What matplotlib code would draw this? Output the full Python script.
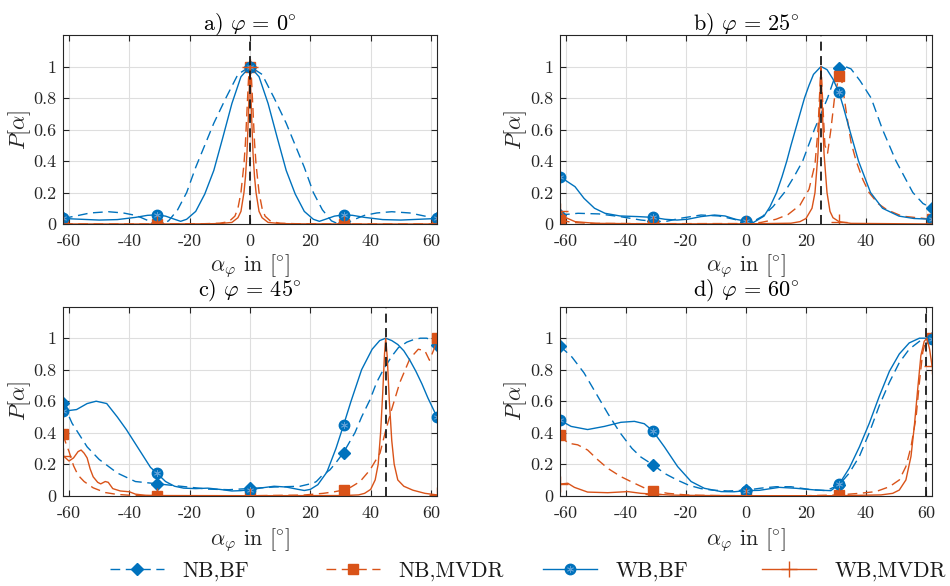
import matplotlib
matplotlib.use("Agg")
import matplotlib.pyplot as plt
import numpy as np

plt.rcParams.update({
    "font.family": ["cmr10", "DejaVu Serif"],
    "mathtext.fontset": "cm",
    "axes.unicode_minus": False,
    "axes.formatter.use_mathtext": True,
})

# ---------------------------------------------------------------- data
XTICKS = [-60, -40, -20, 0, 20, 40, 60]
XTICK_LABELS = ["-60", "-40", "-20", "0", "20", "40", "60"]
YTICKS = [0, 0.2, 0.4, 0.6, 0.8, 1.0]
YTICK_LABELS = ["0", "0.2", "0.4", "0.6", "0.8", "1"]
MARKER_X = [-62, -31, 0, 31, 62]
STEER_ANGLES = [0, 25, 45, 60]
PANEL_TITLES = [r"a) $\varphi\,=\,0\!^\circ$", r"b) $\varphi\,=\,25\!^\circ$",
                r"c) $\varphi\,=\,45\!^\circ$", r"d) $\varphi\,=\,60\!^\circ$"]
SERIES_NAMES = ["NB,BF", "NB,MVDR", "WB,BF", "WB,MVDR"]

# panel a) phi = 0
A_NBBF_X = [-62, -58, -53, -47, -42, -38, -36, -33, -31, -29, -27, -24, -21, -18, -15, -12, -8, -4,
            0, 4, 8, 12, 15, 18, 21, 24, 27, 29, 31, 33, 36, 38, 42, 47, 53, 58, 62]
A_NBBF_Y = [0.035, 0.05, 0.07, 0.078, 0.07, 0.055, 0.04, 0.015, 0.004, 0.003, 0.02, 0.09, 0.20, 0.36,
            0.50, 0.64, 0.80, 0.95, 1.0, 0.95, 0.80, 0.64, 0.50, 0.36, 0.20, 0.09, 0.02, 0.003, 0.004,
            0.015, 0.04, 0.055, 0.07, 0.078, 0.07, 0.05, 0.035]
A_NBMVDR_X = [-62, -31, -20, -15, -10, -7, -5, -4, -3, -2, -1.5, -1, -0.5, 0, 0.5, 1, 1.5, 2, 3, 4, 5,
              7, 10, 15, 20, 31, 62]
A_NBMVDR_Y = [0, 0, 0.001, 0.002, 0.005, 0.015, 0.05, 0.1, 0.2, 0.38, 0.52, 0.72, 0.92, 1.0, 0.92,
              0.72, 0.52, 0.38, 0.2, 0.1, 0.05, 0.015, 0.005, 0.002, 0.001, 0, 0]
A_WBBF_X = [-62, -56, -50, -44, -38, -34, -31, -28, -25, -23, -21, -18, -15, -12, -9, -6, -3, 0,
            3, 6, 9, 12, 15, 18, 21, 23, 25, 28, 31, 34, 38, 44, 50, 56, 62]
A_WBBF_Y = [0.035, 0.03, 0.025, 0.028, 0.042, 0.055, 0.058, 0.05, 0.03, 0.017, 0.03, 0.08, 0.19, 0.34,
            0.55, 0.765, 0.935, 1.0, 0.935, 0.765, 0.55, 0.34, 0.19, 0.08, 0.03, 0.017, 0.03, 0.05,
            0.058, 0.055, 0.042, 0.028, 0.025, 0.03, 0.035]
A_WBMVDR_X = [-62, -31, -15, -10, -6, -4, -3, -2, -1.5, -1, -0.5, 0, 0.5, 1, 1.5, 2, 3, 4, 6, 10,
              15, 31, 62]
A_WBMVDR_Y = [0, 0, 0.001, 0.003, 0.01, 0.04, 0.08, 0.2, 0.3, 0.45, 0.7, 1.0, 0.7, 0.45, 0.3, 0.2,
              0.08, 0.04, 0.01, 0.003, 0.001, 0, 0]

# panel b) phi = 25
B_NBBF_X = [-62, -56, -49, -42, -35, -31, -27, -22, -15, -9, -4, 0, 2, 5.6, 9, 12.8, 16, 18.9, 22.8,
            25, 27.2, 29, 31, 33, 35, 38, 41.7, 45.5, 50, 55.6, 59, 62]
B_NBBF_Y = [0.057, 0.068, 0.064, 0.047, 0.025, 0.018, 0.015, 0.036, 0.057, 0.051, 0.03, 0.012, 0.012,
            0.05, 0.11, 0.2, 0.3, 0.4, 0.6, 0.7, 0.8, 0.9, 0.99, 1.0, 0.985, 0.91, 0.8, 0.6, 0.4, 0.2,
            0.13, 0.1]
B_NBMVDR_X = [-62, -58, -52, -31, 0, 5, 10, 14, 18, 21, 23, 24, 24.6, 25, 25.5, 26.3, 27.2, 28.3,
              29.5, 31, 32, 33.5, 35, 36.7, 39, 41, 44, 47, 52, 57, 62]
B_NBMVDR_Y = [0.025, 0.01, 0.004, 0.002, 0.003, 0.01, 0.03, 0.06, 0.12, 0.22, 0.38, 0.6, 0.85, 1.0,
              0.8, 0.5, 0.45, 0.6, 0.8, 0.94, 0.9, 0.7, 0.52, 0.4, 0.28, 0.2, 0.13, 0.09, 0.05, 0.04,
              0.03]
B_WBBF_X = [-62, -57, -54, -50.5, -47, -42, -36, -31, -27, -23, -19.5, -15, -10.5, -7, -3.5, 0, 2.5,
            6, 8, 10.2, 12, 13.6, 15, 16.5, 18, 19.5, 21, 22.5, 25, 27, 29, 31, 32.5, 34.5, 37.5,
            41.5, 45.5, 51, 56, 62]
B_WBBF_Y = [0.30, 0.237, 0.163, 0.10, 0.068, 0.051, 0.047, 0.042, 0.03, 0.025, 0.03, 0.047, 0.057,
            0.051, 0.03, 0.018, 0.01, 0.05, 0.11, 0.2, 0.3, 0.4, 0.5, 0.6, 0.7, 0.8, 0.88, 0.95, 1.0,
            0.98, 0.92, 0.835, 0.74, 0.6, 0.4, 0.2, 0.1, 0.05, 0.035, 0.03]
B_WBMVDR_X = [-62, -60, -57, -50, -31, 0, 15, 18, 20, 22, 23, 24, 24.5, 25, 25.5, 26, 27, 28, 29, 31,
              35, 62]
B_WBMVDR_Y = [0.085, 0.04, 0.015, 0.004, 0.001, 0.001, 0.005, 0.015, 0.035, 0.1, 0.2, 0.45, 0.7, 1.0,
              0.7, 0.45, 0.2, 0.08, 0.04, 0.015, 0.004, 0.0]

# panel c) phi = 45
C_NBBF_X = [-62, -59, -54, -50, -44, -38, -31, -23, -14, -7, 0, 8, 16.6, 21, 22, 24, 26.5, 28.5, 31,
            34.8, 37, 39.8, 42, 44.2, 47, 49.2, 52, 54.1, 56.5, 58.6, 60.5, 62]
C_NBBF_Y = [0.589, 0.46, 0.31, 0.23, 0.144, 0.09, 0.076, 0.06, 0.042, 0.038, 0.046, 0.055, 0.06, 0.08,
            0.09, 0.13, 0.164, 0.21, 0.274, 0.40, 0.5, 0.61, 0.72, 0.80, 0.885, 0.94, 0.975, 0.99, 1.0,
            1.0, 0.985, 0.96]
C_NBMVDR_X = [-62, -61, -60, -58.5, -57, -55, -52, -48, -44, -40, -35, -31, 0, 17.7, 24.3, 28, 31,
              33.5, 36.5, 39.8, 43.1, 44.8, 47, 49.7, 53, 55.8, 58, 59.5, 61, 62]
C_NBMVDR_Y = [0.39, 0.33, 0.28, 0.19, 0.13, 0.09, 0.05, 0.02, 0.008, 0.003, 0.001, 0.0, 0.0, 0.004,
              0.015, 0.025, 0.036, 0.055, 0.09, 0.164, 0.27, 0.40, 0.55, 0.72, 0.87, 0.93, 0.92, 0.86,
              0.93, 1.0]
C_WBBF_X = [-62, -57.5, -54, -51, -47.5, -44, -41, -38, -35, -33, -31, -28, -25, -22, -18, -14, -10,
            -6, -3, 0, 4, 8, 12, 16, 18, 20, 22.5, 25.5, 28.5, 31, 33.5, 37, 40.5, 43, 45, 47, 49,
            51, 53, 55, 57, 59, 60.5, 62]
C_WBBF_Y = [0.536, 0.547, 0.585, 0.60, 0.585, 0.50, 0.42, 0.33, 0.24, 0.18, 0.145, 0.09, 0.06, 0.048,
            0.045, 0.048, 0.04, 0.03, 0.032, 0.038, 0.05, 0.06, 0.055, 0.04, 0.033, 0.04, 0.07, 0.15,
            0.3, 0.447, 0.6, 0.8, 0.93, 0.985, 1.0, 0.985, 0.96, 0.92, 0.86, 0.79, 0.71, 0.62, 0.56,
            0.5]
C_WBMVDR_X = [-62, -60, -58.5, -57, -56, -55, -54, -53, -52, -50.5, -49.5, -48, -47, -45.5, -43, -40,
              -38, -35, -31, 0, 31, 36, 38, 40, 41.5, 42.5, 43.3, 44, 44.6, 45, 45.5, 46.2, 47, 47.8,
              49, 51, 54, 58, 62]
C_WBMVDR_Y = [0.255, 0.22, 0.24, 0.28, 0.29, 0.27, 0.24, 0.17, 0.12, 0.085, 0.075, 0.09, 0.085, 0.045,
              0.03, 0.025, 0.01, 0.003, 0.001, 0.0, 0.001, 0.005, 0.015, 0.04, 0.1, 0.2, 0.4, 0.65,
              0.9, 1.0, 0.88, 0.6, 0.35, 0.2, 0.1, 0.06, 0.035, 0.015, 0.005]

# panel d) phi = 60
D_NBBF_X = [-62, -58, -54, -50, -46, -42, -38, -35, -31, -27, -23, -19, -15, -11, -6, 0, 5, 10, 15,
            21, 26.7, 31, 34.4, 37.8, 41.1, 44.4, 47.8, 51.1, 54.4, 57.8, 60.6, 62]
D_NBBF_Y = [0.95, 0.88, 0.78, 0.65, 0.52, 0.40, 0.30, 0.245, 0.196, 0.14, 0.10, 0.066, 0.045, 0.035,
            0.03, 0.035, 0.048, 0.057, 0.057, 0.04, 0.032, 0.068, 0.143, 0.25, 0.40, 0.57, 0.72,
            0.845, 0.93, 0.98, 1.0, 1.0]
D_NBMVDR_X = [-62, -59.4, -56.1, -52.8, -49.4, -46.1, -41.7, -37.2, -32.8, -31, -26.1, -19.4, -10, 0,
              20, 31, 37.8, 43.3, 47.8, 51.1, 53.3, 55, 56.7, 57.8, 58.9, 60, 61.1, 62]
D_NBMVDR_Y = [0.387, 0.334, 0.323, 0.29, 0.228, 0.174, 0.121, 0.079, 0.04, 0.032, 0.015, 0.004,
              0.001, 0.0, 0.0, 0.005, 0.015, 0.026, 0.057, 0.1, 0.185, 0.31, 0.50, 0.72, 0.91, 0.99,
              1.0, 1.0]
D_WBBF_X = [-62, -58.3, -52.8, -47.2, -41.7, -37.2, -33.9, -31, -27.2, -22.8, -18.3, -13.9, -8.3, -4,
            0, 4.4, 11.1, 16.7, 23.3, 28.3, 31, 34.4, 37.8, 41.1, 44.4, 47.8, 51.1, 54.4, 57.8, 60.6,
            62]
D_WBBF_Y = [0.479, 0.44, 0.42, 0.44, 0.466, 0.472, 0.457, 0.41, 0.31, 0.185, 0.09, 0.047, 0.026,
            0.025, 0.032, 0.034, 0.053, 0.047, 0.036, 0.032, 0.072, 0.174, 0.31, 0.46, 0.63, 0.79, 0.9,
            0.97, 1.0, 1.0, 0.994]
D_WBMVDR_X = [-62, -59.4, -57.2, -52.8, -46.1, -39.4, -35, -31, -25, -15, 0, 31, 45, 48.9, 51.1, 53.3,
              55, 56.1, 57.2, 58.3, 59.4, 60.3, 61.2, 62]
D_WBMVDR_Y = [0.074, 0.079, 0.053, 0.023, 0.019, 0.026, 0.015, 0.01, 0.004, 0.001, 0.0, 0.0, 0.005,
              0.015, 0.036, 0.1, 0.25, 0.44, 0.67, 0.89, 0.98, 1.0, 0.93, 0.825]

PANELS = [
    [(A_NBBF_X, A_NBBF_Y), (A_NBMVDR_X, A_NBMVDR_Y), (A_WBBF_X, A_WBBF_Y), (A_WBMVDR_X, A_WBMVDR_Y)],
    [(B_NBBF_X, B_NBBF_Y), (B_NBMVDR_X, B_NBMVDR_Y), (B_WBBF_X, B_WBBF_Y), (B_WBMVDR_X, B_WBMVDR_Y)],
    [(C_NBBF_X, C_NBBF_Y), (C_NBMVDR_X, C_NBMVDR_Y), (C_WBBF_X, C_WBBF_Y), (C_WBMVDR_X, C_WBMVDR_Y)],
    [(D_NBBF_X, D_NBBF_Y), (D_NBMVDR_X, D_NBMVDR_Y), (D_WBBF_X, D_WBBF_Y), (D_WBMVDR_X, D_WBMVDR_Y)],
]

# ---------------------------------------------------------------- style
BLUE = "#0072BD"
ORANGE = "#D95319"
TXT = "#262626"
DASH = (0, (7, 4))
STYLES = [
    dict(color=BLUE, ls=DASH, lw=1.0, marker="D", ms=6.5, mfc=BLUE, mec=BLUE),
    dict(color=ORANGE, ls=DASH, lw=1.0, marker="s", ms=6.5, mfc=ORANGE, mec=ORANGE),
    dict(color=BLUE, ls="-", lw=1.0, marker="o", ms=7.5, mfc=BLUE, mec=BLUE),
    dict(color=ORANGE, ls="-", lw=1.0, marker="+", ms=11, mew=1.0, mec=ORANGE),
]
STAR = dict(ls="none", marker=(6, 2, 0), ms=5, mec="#5d9fd6", mew=0.6)

AX_RECTS = [
    [63 / 950, 1 - 224 / 586, 374 / 950, 189 / 586],
    [560 / 950, 1 - 224 / 586, 372 / 950, 189 / 586],
    [63 / 950, 1 - 495.7 / 586, 374 / 950, 189 / 586],
    [560 / 950, 1 - 495.7 / 586, 372 / 950, 189 / 586],
]
TITLE_PADS = [4.0, 4.0, 8.0, 8.0]
XLABEL_Y = [-0.222, -0.222, -0.233, -0.233]
YLABEL_X = [-0.115, -0.12, -0.115, -0.12]

fig = plt.figure(figsize=(9.5, 5.86), dpi=100)
legend_handles = None

for k in range(4):
    ax = fig.add_axes(AX_RECTS[k])
    handles = []
    for (xs, ys), st in zip(PANELS[k], STYLES):
        x = np.asarray(xs, float)
        y = np.asarray(ys, float)
        idx = np.flatnonzero(np.isin(x, MARKER_X))
        ln, = ax.plot(x, y, markevery=list(idx), **st)
        if st["marker"] == "o":
            star, = ax.plot(x[idx], y[idx], **STAR)
            handles.append((ln, star))
        else:
            handles.append(ln)
    if legend_handles is None:
        legend_handles = handles

    ax.axvline(STEER_ANGLES[k], color="#1a1a1a", lw=1.3, ls=(0, (5, 3)), zorder=5)

    ax.set_xlim(-62, 62)
    ax.set_ylim(0, 1.2)
    ax.set_xticks(XTICKS)
    ax.set_xticklabels(XTICK_LABELS)
    ax.set_yticks(YTICKS)
    ax.set_yticklabels(YTICK_LABELS)
    ax.grid(True, color="#dedede", lw=0.8)
    ax.set_axisbelow(True)
    ax.tick_params(direction="in", length=4, width=0.8, top=True, right=True,
                   colors=TXT, labelsize=13)
    ax.tick_params(axis="x", pad=7)
    ax.tick_params(axis="y", pad=5)
    for s in ax.spines.values():
        s.set_color(TXT)
        s.set_linewidth(0.8)

    ax.set_title(PANEL_TITLES[k], fontsize=16, pad=TITLE_PADS[k], color="k")
    ax.set_xlabel(r"$\alpha_\varphi$ in $[\!^\circ\!]$", fontsize=16, color=TXT)
    ax.xaxis.label.set_va("center")
    ax.xaxis.set_label_coords(0.5, XLABEL_Y[k])
    ax.set_ylabel(r"$P[\alpha]$", fontsize=16, color=TXT)
    ax.yaxis.label.set_va("center")
    ax.yaxis.set_label_coords(YLABEL_X[k], 0.5)

# one legend entry per series, spread along the bottom edge
LEGEND_X = [110, 326, 543, 762]
for h, name, x0 in zip(legend_handles, SERIES_NAMES, LEGEND_X):
    fig.legend([h], [name], loc="center left", bbox_to_anchor=(x0 / 950, 1 - 571 / 586),
               frameon=False, fontsize=15.5, handlelength=2.5, handletextpad=0.85,
               borderpad=0, borderaxespad=0, numpoints=1, labelcolor="#1a1a1a")

fig.savefig("out.png", dpi=100)
